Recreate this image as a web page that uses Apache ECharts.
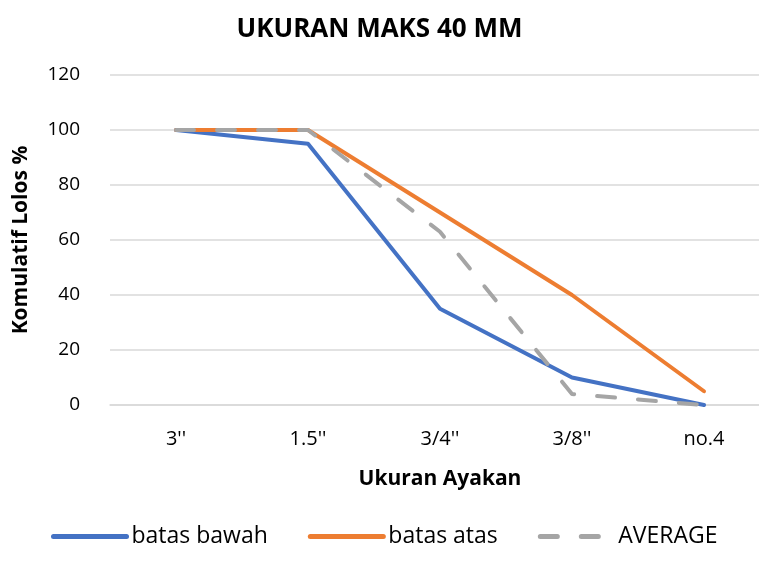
<!DOCTYPE html>
<html>
<head>
<meta charset="utf-8">
<script src="https://cdn.jsdelivr.net/npm/echarts@6/dist/echarts.min.js"></script>
<style>
  html, body { margin: 0; padding: 0; background: #fff; }
  #chart { width: 759px; height: 562px; }
</style>
</head>
<body>
<div id="chart"></div>
<script>
const categories = ["3''", "1.5''", "3/4''", "3/8''", "no.4"];
const batasBawah = [100, 95, 35, 10, 0];
const batasAtas = [100, 100, 70, 40, 5];
const average = [100, 100, 63, 4, 0];
const yTicks = [0, 20, 40, 60, 80, 100, 120];

const font = "'Open Sans', sans-serif";
const chart = echarts.init(document.getElementById("chart"));
chart.setOption({
    animation: false,
    title: {
        text: "UKURAN MAKS 40 MM",
        left: "center",
        top: 12,
        textStyle: { fontFamily: font, fontSize: 26, fontWeight: "bold", color: "#000" },
    },
    legend: {
        data: [
            "batas bawah",
            "batas atas",
            { name: "AVERAGE", lineStyle: { type: [17, 24] } },
        ],
        bottom: 9,
        left: 46,
        itemWidth: 73,
        itemHeight: 6,
        itemGap: 40,
        lineStyle: { width: 5, cap: "round" },
        itemStyle: { opacity: 0 },
        textStyle: { fontFamily: font, fontSize: 23, color: "#000" },
    },
    grid: { left: 110, width: 660, top: 75, bottom: 157, outerBoundsMode: "none" },
    xAxis: {
        type: "category",
        data: categories,
        name: "Ukuran Ayakan",
        nameLocation: "middle",
        nameGap: 64,
        nameTextStyle: { fontFamily: font, fontSize: 21, fontWeight: "bold", color: "#000" },
        axisLine: { lineStyle: { color: "#d9d9d9", width: 1.5 } },
        axisTick: { show: false },
        axisLabel: { fontFamily: font, fontSize: 20, color: "#000", margin: 24 },
    },
    yAxis: {
        type: "value",
        min: yTicks[0],
        max: yTicks[yTicks.length - 1],
        interval: 20,
        name: "Komulatif Lolos %",
        nameLocation: "middle",
        nameGap: 78,
        nameTextStyle: { fontFamily: font, fontSize: 21, fontWeight: "bold", color: "#000" },
        axisLine: { show: false },
        axisTick: { show: false },
        axisLabel: { fontFamily: font, fontSize: 19, color: "#000", margin: 30 },
        splitLine: { lineStyle: { color: "#d9d9d9", width: 1.5 } },
    },
    series: [
        {
            name: "batas bawah",
            type: "line",
            data: batasBawah,
            symbol: "none",
            itemStyle: { color: "#4472C4" },
            lineStyle: { color: "#4472C4", width: 4, cap: "round", join: "round" },
        },
        {
            name: "batas atas",
            type: "line",
            data: batasAtas,
            symbol: "none",
            itemStyle: { color: "#ED7D31" },
            lineStyle: { color: "#ED7D31", width: 4, cap: "round", join: "round" },
        },
        {
            name: "AVERAGE",
            type: "line",
            data: average,
            symbol: "none",
            itemStyle: { color: "#A5A5A5" },
            lineStyle: { color: "#A5A5A5", width: 4, type: [18, 23], cap: "round", join: "round" },
        },
    ],
});
</script>
</body>
</html>
